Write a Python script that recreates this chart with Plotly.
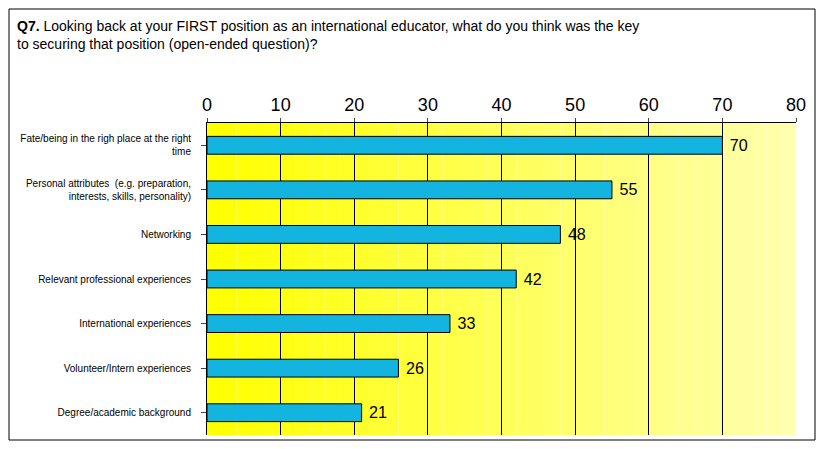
import plotly.graph_objects as go

categories = ["Fate/being in the righ place at the right<br>time",
              "Personal attributes  (e.g. preparation,<br>interests, skills, personality)",
              "Networking",
              "Relevant professional experiences",
              "International experiences",
              "Volunteer/Intern experiences",
              "Degree/academic background"]
values = [70, 55, 48, 42, 33, 26, 21]

fig = go.Figure(go.Bar(
    x=values, y=categories, orientation="h", width=0.4,
    marker=dict(color="#14b4e0", line=dict(color="black", width=1)),
    text=[" " + str(v) for v in values], textposition="outside",
    textfont=dict(size=19, color="black", family="Arial"), cliponaxis=False))

shapes = []
n = 40
for i in range(n):
    t = i / (n - 1)
    b = int(t * 175)
    shapes.append(dict(type="rect", xref="x", yref="paper", x0=80 * i / n, x1=80 * (i + 1) / n,
                       y0=0, y1=1, fillcolor=f"rgb(255,255,{b})", line=dict(width=0), layer="below"))
shapes.append(dict(type="rect", xref="paper", yref="paper", x0=-198/589, x1=1+19/589,
                   y0=-5/312, y1=1+114/312, line=dict(color="black", width=1)))

fig.update_layout(
    width=808, height=433, margin=dict(l=199, r=20, t=115, b=6),
    paper_bgcolor="white", plot_bgcolor="white", shapes=shapes, showlegend=False,
    font=dict(family="Arial", color="black"),
    xaxis=dict(range=[0, 80], dtick=10, side="top", showgrid=True, gridcolor="black", gridwidth=1,
               tickfont=dict(size=18), showline=True, linecolor="black", zeroline=False,
               ticks="outside", ticklen=4),
    yaxis=dict(autorange="reversed", tickfont=dict(size=10), showline=True, linecolor="black",
               ticks="outside", ticklen=5, ticklabelstandoff=8),
    annotations=[dict(xref="paper", yref="paper", x=-192/589, y=1+107/312, xanchor="left", yanchor="top",
                      align="left", showarrow=False, font=dict(size=14),
                      text="<b>Q7.</b> Looking back at your FIRST position as an international educator, what do you think was the key<br>to securing that position (open-ended question)?")])
fig.write_html("out.html")
